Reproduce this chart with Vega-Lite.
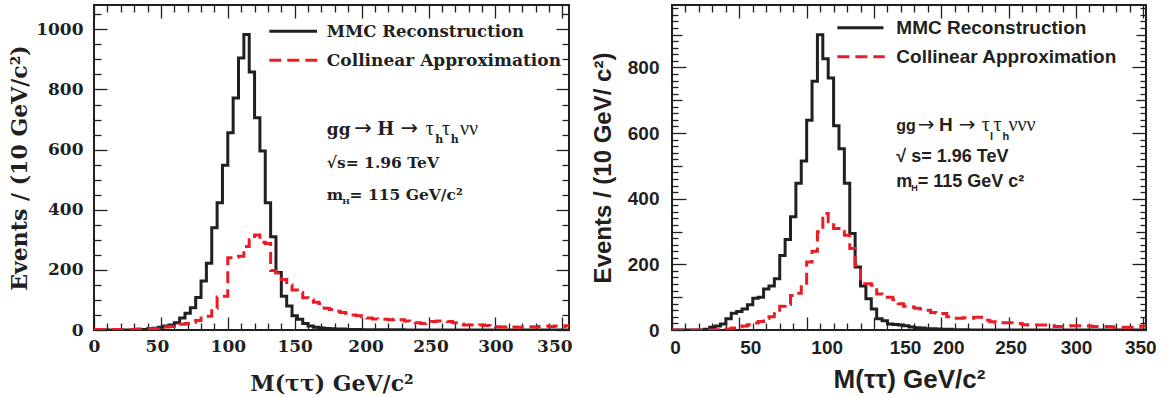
{
  "$schema": "https://vega.github.io/schema/vega-lite/v6.json",
  "background": "white",
  "padding": {"left": 7, "top": -2, "right": 4, "bottom": 0},
  "spacing": 16,
  "config": {
    "view": {"stroke": "#231f20", "strokeWidth": 2},
    "axis": {"grid": false, "domain": false, "tickColor": "#231f20", "tickWidth": 1.3, "labelColor": "#231f20", "titleColor": "#231f20", "labelFlush": false, "labelOverlap": false},
    "text": {"color": "#231f20", "align": "left", "baseline": "alphabetic"}
  },
  "datasets": {
    "lMMC": [{"m":0,"n":0},{"m":4,"n":0},{"m":8,"n":0},{"m":12,"n":0},{"m":16,"n":0},{"m":20,"n":0},{"m":24,"n":0},{"m":28,"n":1},{"m":32,"n":1},{"m":36,"n":2},{"m":40,"n":4},{"m":44,"n":6},{"m":48,"n":9},{"m":52,"n":13},{"m":56,"n":17},{"m":60,"n":24},{"m":64,"n":40},{"m":68,"n":56},{"m":72,"n":74},{"m":76,"n":108},{"m":80,"n":163},{"m":84,"n":222},{"m":88,"n":340},{"m":92,"n":423},{"m":96,"n":548},{"m":100,"n":656},{"m":104,"n":772},{"m":108,"n":905},{"m":112,"n":983},{"m":116,"n":858},{"m":120,"n":706},{"m":124,"n":595},{"m":128,"n":423},{"m":132,"n":310},{"m":136,"n":191},{"m":140,"n":112},{"m":144,"n":80},{"m":148,"n":47},{"m":152,"n":36},{"m":156,"n":22},{"m":160,"n":13},{"m":164,"n":9},{"m":168,"n":7},{"m":172,"n":5},{"m":176,"n":4},{"m":180,"n":3},{"m":184,"n":3},{"m":188,"n":2},{"m":192,"n":2},{"m":196,"n":2},{"m":200,"n":1},{"m":204,"n":1},{"m":208,"n":1},{"m":212,"n":1},{"m":216,"n":1},{"m":220,"n":1},{"m":224,"n":1},{"m":228,"n":1},{"m":232,"n":0},{"m":236,"n":0},{"m":240,"n":0},{"m":244,"n":0},{"m":248,"n":0},{"m":252,"n":0},{"m":256,"n":0},{"m":260,"n":0},{"m":264,"n":0},{"m":268,"n":0},{"m":272,"n":0},{"m":276,"n":0},{"m":280,"n":0},{"m":284,"n":0},{"m":288,"n":0},{"m":292,"n":0},{"m":296,"n":0},{"m":300,"n":0},{"m":304,"n":0},{"m":308,"n":0},{"m":312,"n":0},{"m":316,"n":0},{"m":320,"n":0},{"m":324,"n":0},{"m":328,"n":0},{"m":332,"n":0},{"m":336,"n":0},{"m":340,"n":0},{"m":344,"n":0},{"m":348,"n":0},{"m":352,"n":0},{"m":356,"n":0}],
    "lCol": [{"m":0,"n":2},{"m":4,"n":2},{"m":8,"n":2},{"m":12,"n":2},{"m":16,"n":2},{"m":20,"n":2},{"m":24,"n":2},{"m":28,"n":2},{"m":32,"n":3},{"m":36,"n":3},{"m":40,"n":3},{"m":44,"n":4},{"m":48,"n":8},{"m":52,"n":10},{"m":56,"n":12},{"m":60,"n":15},{"m":64,"n":19},{"m":68,"n":22},{"m":72,"n":26},{"m":76,"n":32},{"m":80,"n":40},{"m":84,"n":46},{"m":88,"n":72},{"m":92,"n":110},{"m":96,"n":112},{"m":100,"n":240},{"m":104,"n":243},{"m":108,"n":245},{"m":112,"n":278},{"m":116,"n":300},{"m":120,"n":316},{"m":124,"n":292},{"m":128,"n":288},{"m":132,"n":198},{"m":136,"n":190},{"m":140,"n":168},{"m":144,"n":150},{"m":148,"n":133},{"m":152,"n":125},{"m":156,"n":107},{"m":160,"n":100},{"m":164,"n":92},{"m":168,"n":88},{"m":172,"n":72},{"m":176,"n":68},{"m":180,"n":62},{"m":184,"n":58},{"m":188,"n":56},{"m":192,"n":50},{"m":196,"n":47},{"m":200,"n":44},{"m":204,"n":40},{"m":208,"n":37},{"m":212,"n":36},{"m":216,"n":36},{"m":220,"n":34},{"m":224,"n":36},{"m":228,"n":34},{"m":232,"n":30},{"m":236,"n":26},{"m":240,"n":24},{"m":244,"n":22},{"m":248,"n":24},{"m":252,"n":28},{"m":256,"n":30},{"m":260,"n":30},{"m":264,"n":28},{"m":268,"n":24},{"m":272,"n":20},{"m":276,"n":17},{"m":280,"n":17},{"m":284,"n":16},{"m":288,"n":17},{"m":292,"n":15},{"m":296,"n":13},{"m":300,"n":11},{"m":304,"n":10},{"m":308,"n":11},{"m":312,"n":10},{"m":316,"n":9},{"m":320,"n":10},{"m":324,"n":11},{"m":328,"n":10},{"m":332,"n":12},{"m":336,"n":13},{"m":340,"n":12},{"m":344,"n":13},{"m":348,"n":12},{"m":352,"n":14},{"m":356,"n":14}],
    "rMMC": [{"m":0,"n":0},{"m":4,"n":0},{"m":8,"n":0},{"m":12,"n":0},{"m":16,"n":0},{"m":20,"n":0},{"m":24,"n":2},{"m":28,"n":8},{"m":32,"n":12},{"m":36,"n":18},{"m":40,"n":34},{"m":44,"n":51},{"m":48,"n":56},{"m":52,"n":64},{"m":56,"n":77},{"m":60,"n":97},{"m":64,"n":100},{"m":68,"n":125},{"m":72,"n":134},{"m":76,"n":156},{"m":80,"n":227},{"m":84,"n":276},{"m":88,"n":345},{"m":92,"n":447},{"m":96,"n":515},{"m":100,"n":639},{"m":104,"n":758},{"m":108,"n":899},{"m":112,"n":826},{"m":116,"n":768},{"m":120,"n":622},{"m":124,"n":552},{"m":128,"n":447},{"m":132,"n":294},{"m":136,"n":192},{"m":140,"n":134},{"m":144,"n":95},{"m":148,"n":64},{"m":152,"n":34},{"m":156,"n":28},{"m":160,"n":18},{"m":164,"n":17},{"m":168,"n":15},{"m":172,"n":13},{"m":176,"n":9},{"m":180,"n":7},{"m":184,"n":6},{"m":188,"n":4},{"m":192,"n":4},{"m":196,"n":3},{"m":200,"n":2},{"m":204,"n":2},{"m":208,"n":1},{"m":212,"n":1},{"m":216,"n":1},{"m":220,"n":0},{"m":224,"n":0},{"m":228,"n":0},{"m":232,"n":0},{"m":236,"n":0},{"m":240,"n":0},{"m":244,"n":0},{"m":248,"n":0},{"m":252,"n":0},{"m":256,"n":0},{"m":260,"n":0},{"m":264,"n":0},{"m":268,"n":0},{"m":272,"n":0},{"m":276,"n":0},{"m":280,"n":0},{"m":284,"n":0},{"m":288,"n":0},{"m":292,"n":0},{"m":296,"n":0},{"m":300,"n":0},{"m":304,"n":0},{"m":308,"n":0},{"m":312,"n":0},{"m":316,"n":0},{"m":320,"n":0},{"m":324,"n":0},{"m":328,"n":0},{"m":332,"n":0},{"m":336,"n":0},{"m":340,"n":0},{"m":344,"n":0},{"m":348,"n":0},{"m":352,"n":0}],
    "rCol": [{"m":0,"n":0},{"m":4,"n":0},{"m":8,"n":0},{"m":12,"n":0},{"m":16,"n":0},{"m":20,"n":0},{"m":24,"n":0},{"m":28,"n":0},{"m":32,"n":1},{"m":36,"n":2},{"m":40,"n":3},{"m":44,"n":6},{"m":48,"n":10},{"m":52,"n":12},{"m":56,"n":16},{"m":60,"n":21},{"m":64,"n":26},{"m":68,"n":35},{"m":72,"n":40},{"m":76,"n":55},{"m":80,"n":72},{"m":84,"n":78},{"m":88,"n":105},{"m":92,"n":112},{"m":96,"n":138},{"m":100,"n":207},{"m":104,"n":240},{"m":108,"n":299},{"m":112,"n":355},{"m":116,"n":330},{"m":120,"n":309},{"m":124,"n":300},{"m":128,"n":289},{"m":132,"n":248},{"m":136,"n":197},{"m":140,"n":141},{"m":144,"n":141},{"m":148,"n":136},{"m":152,"n":110},{"m":156,"n":100},{"m":160,"n":100},{"m":164,"n":92},{"m":168,"n":80},{"m":172,"n":72},{"m":176,"n":70},{"m":180,"n":66},{"m":184,"n":64},{"m":188,"n":60},{"m":192,"n":53},{"m":196,"n":52},{"m":200,"n":50},{"m":204,"n":40},{"m":208,"n":36},{"m":212,"n":36},{"m":216,"n":37},{"m":220,"n":36},{"m":224,"n":39},{"m":228,"n":39},{"m":232,"n":30},{"m":236,"n":25},{"m":240,"n":22},{"m":244,"n":22},{"m":248,"n":22},{"m":252,"n":22},{"m":256,"n":20},{"m":260,"n":16},{"m":264,"n":15},{"m":268,"n":15},{"m":272,"n":15},{"m":276,"n":15},{"m":280,"n":13},{"m":284,"n":11},{"m":288,"n":11},{"m":292,"n":12},{"m":296,"n":13},{"m":300,"n":13},{"m":304,"n":13},{"m":308,"n":12},{"m":312,"n":11},{"m":316,"n":11},{"m":320,"n":11},{"m":324,"n":10},{"m":328,"n":8},{"m":332,"n":8},{"m":336,"n":8},{"m":340,"n":8},{"m":344,"n":8},{"m":348,"n":12},{"m":352,"n":12}]
  },
  "hconcat": [
    {
      "width": 475,
      "height": 325,
      "resolve": {"axis": {"x": "independent", "y": "independent"}},
      "layer": [
        {
          "data": {"name": "lMMC"},
          "mark": {"type": "line", "interpolate": "step-after", "color": "#231f20", "strokeWidth": 3, "clip": true},
          "encoding": {
            "x": {"field": "m", "type": "quantitative", "scale": {"domain": [0, 355], "nice": false, "zero": false},
              "axis": {"orient": "bottom", "values": [0,10,20,30,40,50,60,70,80,90,100,110,120,130,140,150,160,170,180,190,200,210,220,230,240,250,260,270,280,290,300,310,320,330,340,350],
                "format": "d", "labelExpr": "datum.value % 50 === 0 ? datum.label : ''",
                "tickSize": {"condition": {"test": "datum.value % 50 === 0", "value": -13}, "value": -7},
                "labelOffset": {"condition": [{"test": "datum.value === 50", "value": -4}, {"test": "datum.value === 200", "value": 4}, {"test": "datum.value === 250", "value": 2}, {"test": "datum.value === 350", "value": -8}], "value": 0},
                "labelFont": "DejaVu Serif", "labelFontWeight": "bold", "labelFontSize": 17, "labelPadding": 21,
                "title": "M(ττ) GeV/c²", "titleFont": "DejaVu Serif", "titleFontWeight": "bold", "titleFontSize": 22, "titlePadding": 13}},
            "y": {"field": "n", "type": "quantitative", "scale": {"domain": [0, 1081], "nice": false},
              "axis": {"orient": "left", "values": [0,50,100,150,200,250,300,350,400,450,500,550,600,650,700,750,800,850,900,950,1000,1050],
                "format": "d", "labelExpr": "datum.value % 200 === 0 ? datum.label : ''",
                "tickSize": {"condition": {"test": "datum.value % 200 === 0", "value": -13}, "value": -7},
                "labelFont": "DejaVu Serif", "labelFontWeight": "bold", "labelFontSize": 17, "labelPadding": 24,
                "title": "Events / (10 GeV/c²)", "titleFont": "DejaVu Serif", "titleFontWeight": "bold", "titleFontSize": 22, "titlePadding": 4}}
          }
        },
        {
          "data": {"name": "lCol"},
          "mark": {"type": "line", "interpolate": "step-after", "color": "#ec1c24", "strokeWidth": 3, "strokeDash": [12, 6], "clip": true},
          "encoding": {
            "x": {"field": "m", "type": "quantitative",
              "axis": {"orient": "top", "values": [0,10,20,30,40,50,60,70,80,90,100,110,120,130,140,150,160,170,180,190,200,210,220,230,240,250,260,270,280,290,300,310,320,330,340,350],
                "labels": false, "title": null,
                "tickSize": {"condition": {"test": "datum.value % 50 === 0", "value": -13}, "value": -7}}},
            "y": {"field": "n", "type": "quantitative",
              "axis": {"orient": "right", "values": [0,50,100,150,200,250,300,350,400,450,500,550,600,650,700,750,800,850,900,950,1000,1050],
                "labels": false, "title": null,
                "tickSize": {"condition": {"test": "datum.value % 200 === 0", "value": -13}, "value": -7}}}
          }
        },
        {
          "data": {"values": [{}]},
          "mark": {"type": "rule", "color": "#231f20", "strokeWidth": 3},
          "encoding": {"x": {"datum": 131, "axis": null}, "x2": {"datum": 166.7}, "y": {"datum": 994, "axis": null}}
        },
        {
          "data": {"values": [{}]},
          "mark": {"type": "rule", "color": "#ec1c24", "strokeWidth": 3, "strokeDash": [12, 6]},
          "encoding": {"x": {"datum": 131, "axis": null}, "x2": {"datum": 167.4}, "y": {"datum": 897, "axis": null}}
        },
        {
          "data": {"values": [{}]},
          "mark": {"type": "text", "text": "MMC Reconstruction", "font": "DejaVu Serif", "fontWeight": "bold", "fontSize": 16.5},
          "encoding": {"x": {"datum": 174, "axis": null}, "y": {"datum": 974, "axis": null}}
        },
        {
          "data": {"values": [{}]},
          "mark": {"type": "text", "text": "Collinear Approximation", "font": "DejaVu Serif", "fontWeight": "bold", "fontSize": 17},
          "encoding": {"x": {"datum": 174, "axis": null}, "y": {"datum": 878, "axis": null}}
        },
        {
          "data": {"values": [{}]},
          "mark": {"type": "text", "text": "gg", "font": "DejaVu Serif", "fontWeight": "bold", "fontSize": 17},
          "encoding": {"x": {"datum": 174, "axis": null}, "y": {"datum": 648, "axis": null}}
        },
        {
          "data": {"values": [{}]},
          "mark": {"type": "text", "text": "→", "font": "DejaVu Sans", "fontSize": 21},
          "encoding": {"x": {"datum": 194.5, "axis": null}, "y": {"datum": 648, "axis": null}}
        },
        {
          "data": {"values": [{}]},
          "mark": {"type": "text", "text": "H", "font": "DejaVu Serif", "fontWeight": "bold", "fontSize": 18},
          "encoding": {"x": {"datum": 211.6, "axis": null}, "y": {"datum": 648, "axis": null}}
        },
        {
          "data": {"values": [{}]},
          "mark": {"type": "text", "text": "→", "font": "DejaVu Sans", "fontSize": 21},
          "encoding": {"x": {"datum": 229, "axis": null}, "y": {"datum": 648, "axis": null}}
        },
        {
          "data": {"values": [{}]},
          "mark": {"type": "text", "text": "τ", "font": "Liberation Serif", "fontSize": 20},
          "encoding": {"x": {"datum": 248, "axis": null}, "y": {"datum": 648, "axis": null}}
        },
        {
          "data": {"values": [{}]},
          "mark": {"type": "text", "text": "h", "font": "DejaVu Serif", "fontWeight": "bold", "fontSize": 11},
          "encoding": {"x": {"datum": 255, "axis": null}, "y": {"datum": 623, "axis": null}}
        },
        {
          "data": {"values": [{}]},
          "mark": {"type": "text", "text": "τ", "font": "Liberation Serif", "fontSize": 20},
          "encoding": {"x": {"datum": 260, "axis": null}, "y": {"datum": 648, "axis": null}}
        },
        {
          "data": {"values": [{}]},
          "mark": {"type": "text", "text": "h", "font": "DejaVu Serif", "fontWeight": "bold", "fontSize": 11},
          "encoding": {"x": {"datum": 266.6, "axis": null}, "y": {"datum": 623, "axis": null}}
        },
        {
          "data": {"values": [{}]},
          "mark": {"type": "text", "text": "νν", "font": "Liberation Serif", "fontSize": 20},
          "encoding": {"x": {"datum": 273.5, "axis": null}, "y": {"datum": 648, "axis": null}}
        },
        {
          "data": {"values": [{}]},
          "mark": {"type": "text", "text": "√s= 1.96 TeV", "font": "DejaVu Serif", "fontWeight": "bold", "fontSize": 15.5},
          "encoding": {"x": {"datum": 174, "axis": null}, "y": {"datum": 540, "axis": null}}
        },
        {
          "data": {"values": [{}]},
          "mark": {"type": "text", "text": "m", "font": "DejaVu Serif", "fontWeight": "bold", "fontSize": 15.5},
          "encoding": {"x": {"datum": 174, "axis": null}, "y": {"datum": 432, "axis": null}}
        },
        {
          "data": {"values": [{}]},
          "mark": {"type": "text", "text": "H", "font": "DejaVu Serif", "fontWeight": "bold", "fontSize": 8},
          "encoding": {"x": {"datum": 185.6, "axis": null}, "y": {"datum": 420, "axis": null}}
        },
        {
          "data": {"values": [{}]},
          "mark": {"type": "text", "text": "= 115 GeV/c²", "font": "DejaVu Serif", "fontWeight": "bold", "fontSize": 15.5},
          "encoding": {"x": {"datum": 191, "axis": null}, "y": {"datum": 432, "axis": null}}
        }
      ]
    },
    {
      "width": 474,
      "height": 325,
      "resolve": {"axis": {"x": "independent", "y": "independent"}},
      "layer": [
        {
          "data": {"name": "rMMC"},
          "mark": {"type": "line", "interpolate": "step-after", "color": "#231f20", "strokeWidth": 3, "clip": true},
          "encoding": {
            "x": {"field": "m", "type": "quantitative", "scale": {"domain": [0, 352], "nice": false, "zero": false},
              "axis": {"orient": "bottom", "values": [0,10,20,30,40,50,60,70,80,90,100,110,120,130,140,150,160,170,180,190,200,210,220,230,240,250,260,270,280,290,300,310,320,330,340,350],
                "format": "d", "labelExpr": "datum.value % 50 === 0 ? datum.label : ''",
                "tickSize": {"condition": {"test": "datum.value % 50 === 0", "value": -13}, "value": -7},
                "labelOffset": {"condition": [{"test": "datum.value === 0", "value": 3}, {"test": "datum.value === 50", "value": 11}, {"test": "datum.value === 100", "value": 20}, {"test": "datum.value === 150", "value": 31}, {"test": "datum.value === 200", "value": 7}, {"test": "datum.value === 250", "value": 2}, {"test": "datum.value === 350", "value": -3}], "value": 0},
                "labelFont": "Liberation Sans", "labelFontWeight": "bold", "labelFontSize": 19, "labelPadding": 21,
                "title": "M(ττ) GeV/c²", "titleFont": "Liberation Sans", "titleFontWeight": "bold", "titleFontSize": 26, "titlePadding": 3}},
            "y": {"field": "n", "type": "quantitative", "scale": {"domain": [0, 990], "nice": false},
              "axis": {"orient": "left", "values": [0,20,40,60,80,100,120,140,160,180,200,220,240,260,280,300,320,340,360,380,400,420,440,460,480,500,520,540,560,580,600,620,640,660,680,700,720,740,760,780,800,820,840,860,880,900,920,940,960,980],
                "format": "d", "labelExpr": "datum.value % 200 === 0 ? datum.label : ''",
                "tickSize": {"condition": [{"test": "datum.value % 200 === 0", "value": -14}, {"test": "datum.value % 100 === 0", "value": -10}], "value": -6},
                "labelFont": "Liberation Sans", "labelFontWeight": "bold", "labelFontSize": 19, "labelPadding": 27,
                "title": "Events / (10 GeV/ c²)", "titleFont": "Liberation Sans", "titleFontWeight": "bold", "titleFontSize": 24, "titlePadding": 12}}
          }
        },
        {
          "data": {"name": "rCol"},
          "mark": {"type": "line", "interpolate": "step-after", "color": "#ec1c24", "strokeWidth": 3, "strokeDash": [12, 6], "clip": true},
          "encoding": {
            "x": {"field": "m", "type": "quantitative",
              "axis": {"orient": "top", "values": [0,10,20,30,40,50,60,70,80,90,100,110,120,130,140,150,160,170,180,190,200,210,220,230,240,250,260,270,280,290,300,310,320,330,340,350],
                "labels": false, "title": null,
                "tickSize": {"condition": {"test": "datum.value % 50 === 0", "value": -13}, "value": -7}}},
            "y": {"field": "n", "type": "quantitative",
              "axis": {"orient": "right", "values": [0,20,40,60,80,100,120,140,160,180,200,220,240,260,280,300,320,340,360,380,400,420,440,460,480,500,520,540,560,580,600,620,640,660,680,700,720,740,760,780,800,820,840,860,880,900,920,940,960,980],
                "labels": false, "title": null,
                "tickSize": {"condition": [{"test": "datum.value % 200 === 0", "value": -14}, {"test": "datum.value % 100 === 0", "value": -10}], "value": -6}}}
          }
        },
        {
          "data": {"values": [{}]},
          "mark": {"type": "rule", "color": "#231f20", "strokeWidth": 3},
          "encoding": {"x": {"datum": 122.8, "axis": null}, "x2": {"datum": 157}, "y": {"datum": 921, "axis": null}}
        },
        {
          "data": {"values": [{}]},
          "mark": {"type": "rule", "color": "#ec1c24", "strokeWidth": 3, "strokeDash": [12, 6]},
          "encoding": {"x": {"datum": 122.8, "axis": null}, "x2": {"datum": 158}, "y": {"datum": 832, "axis": null}}
        },
        {
          "data": {"values": [{}]},
          "mark": {"type": "text", "text": "MMC Reconstruction", "font": "Liberation Sans", "fontWeight": "bold", "fontSize": 19},
          "encoding": {"x": {"datum": 166.6, "axis": null}, "y": {"datum": 901, "axis": null}}
        },
        {
          "data": {"values": [{}]},
          "mark": {"type": "text", "text": "Collinear Approximation", "font": "Liberation Sans", "fontWeight": "bold", "fontSize": 19},
          "encoding": {"x": {"datum": 166.6, "axis": null}, "y": {"datum": 814, "axis": null}}
        },
        {
          "data": {"values": [{}]},
          "mark": {"type": "text", "text": "gg", "font": "Liberation Sans", "fontWeight": "bold", "fontSize": 16},
          "encoding": {"x": {"datum": 166.6, "axis": null}, "y": {"datum": 605, "axis": null}}
        },
        {
          "data": {"values": [{}]},
          "mark": {"type": "text", "text": "→", "font": "DejaVu Sans", "fontSize": 20},
          "encoding": {"x": {"datum": 182.5, "axis": null}, "y": {"datum": 605, "axis": null}}
        },
        {
          "data": {"values": [{}]},
          "mark": {"type": "text", "text": "H", "font": "Liberation Sans", "fontWeight": "bold", "fontSize": 19},
          "encoding": {"x": {"datum": 198.3, "axis": null}, "y": {"datum": 605, "axis": null}}
        },
        {
          "data": {"values": [{}]},
          "mark": {"type": "text", "text": "→", "font": "DejaVu Sans", "fontSize": 20},
          "encoding": {"x": {"datum": 213, "axis": null}, "y": {"datum": 605, "axis": null}}
        },
        {
          "data": {"values": [{}]},
          "mark": {"type": "text", "text": "τ", "font": "Liberation Serif", "fontSize": 20},
          "encoding": {"x": {"datum": 230, "axis": null}, "y": {"datum": 605, "axis": null}}
        },
        {
          "data": {"values": [{}]},
          "mark": {"type": "text", "text": "l", "font": "Liberation Sans", "fontWeight": "bold", "fontSize": 11},
          "encoding": {"x": {"datum": 236.2, "axis": null}, "y": {"datum": 579, "axis": null}}
        },
        {
          "data": {"values": [{}]},
          "mark": {"type": "text", "text": "τ", "font": "Liberation Serif", "fontSize": 20},
          "encoding": {"x": {"datum": 238.7, "axis": null}, "y": {"datum": 605, "axis": null}}
        },
        {
          "data": {"values": [{}]},
          "mark": {"type": "text", "text": "h", "font": "Liberation Sans", "fontWeight": "bold", "fontSize": 11},
          "encoding": {"x": {"datum": 245.4, "axis": null}, "y": {"datum": 579, "axis": null}}
        },
        {
          "data": {"values": [{}]},
          "mark": {"type": "text", "text": "ννν", "font": "Liberation Serif", "fontSize": 20},
          "encoding": {"x": {"datum": 249.9, "axis": null}, "y": {"datum": 605, "axis": null}}
        },
        {
          "data": {"values": [{}]},
          "mark": {"type": "text", "text": "√ s= 1.96 TeV", "font": "Liberation Sans", "fontWeight": "bold", "fontSize": 18},
          "encoding": {"x": {"datum": 166.6, "axis": null}, "y": {"datum": 513, "axis": null}}
        },
        {
          "data": {"values": [{}]},
          "mark": {"type": "text", "text": "m", "font": "Liberation Sans", "fontWeight": "bold", "fontSize": 18},
          "encoding": {"x": {"datum": 166.6, "axis": null}, "y": {"datum": 437, "axis": null}}
        },
        {
          "data": {"values": [{}]},
          "mark": {"type": "text", "text": "H", "font": "Liberation Sans", "fontWeight": "bold", "fontSize": 9},
          "encoding": {"x": {"datum": 177.6, "axis": null}, "y": {"datum": 423, "axis": null}}
        },
        {
          "data": {"values": [{}]},
          "mark": {"type": "text", "text": "= 115 GeV c²", "font": "Liberation Sans", "fontWeight": "bold", "fontSize": 18},
          "encoding": {"x": {"datum": 182.5, "axis": null}, "y": {"datum": 437, "axis": null}}
        }
      ]
    }
  ]
}
